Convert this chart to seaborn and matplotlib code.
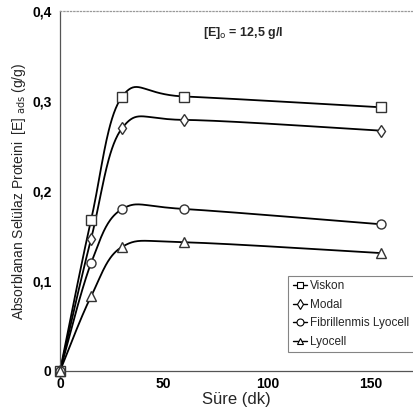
import numpy as np
import pandas as pd
import matplotlib
matplotlib.use("Agg")
import matplotlib.pyplot as plt
import seaborn as sns
from matplotlib.lines import Line2D

time_min = [0, 15, 30, 60, 155]
viskon = [0.0, 0.168, 0.305, 0.305, 0.293]
modal = [0.0, 0.147, 0.270, 0.279, 0.267]
fibrillenmis = [0.0, 0.120, 0.180, 0.180, 0.163]
lyocell = [0.0, 0.083, 0.138, 0.143, 0.131]
series_names = ["Viskon", "Modal", "Fibrillenmis Lyocell", "Lyocell"]
series_vals = [viskon, modal, fibrillenmis, lyocell]
markers = ["s", "d", "o", "^"]

sns.set_theme(style="white")
plt.rcParams['font.family'] = ['Liberation Sans', 'DejaVu Sans']

def smooth(x, y, n=40):
    x = np.asarray(x, float); y = np.asarray(y, float)
    pts = np.column_stack([x, y])
    out = []
    for i in range(len(pts) - 1):
        p0 = pts[i - 1] if i > 0 else pts[i]
        p1 = pts[i]; p2 = pts[i + 1]
        p3 = pts[i + 2] if i + 2 < len(pts) else pts[i + 1]
        c1 = p1 + (p2 - p0) / 6.0
        c2 = p2 - (p3 - p1) / 6.0
        t = np.linspace(0, 1, n)[:, None]
        b = ((1 - t) ** 3) * p1 + 3 * ((1 - t) ** 2) * t * c1 + 3 * (1 - t) * t ** 2 * c2 + t ** 3 * p2
        out.append(b if i == 0 else b[1:])
    out = np.vstack(out)
    return out[:, 0], out[:, 1]

fig = plt.figure(figsize=(4.14, 4.18), dpi=100)
ax = fig.add_axes([60 / 414, 47 / 418, 352.5 / 414, 360 / 418])

rows = []
for name, vals in zip(series_names, series_vals):
    for t, v in zip(time_min, vals):
        rows.append({"t": t, "v": v, "s": name})
df = pd.DataFrame(rows)

for name, vals, m in zip(series_names, series_vals, markers):
    sx, sy = smooth(time_min, vals)
    sdf = pd.DataFrame({"t": sx, "v": sy})
    sns.lineplot(data=sdf, x="t", y="v", ax=ax, color="black", lw=1.3, sort=False, estimator=None)
    sub = df[df.s == name]
    ax.plot(sub.t, sub.v, linestyle="none", marker=m, ms=6.5 if m != "d" else 6,
            mfc="white", mec="#333333", mew=1.0, zorder=5, clip_on=False)

ax.set_xlim(0, 170)
ax.set_ylim(0, 0.4)
ax.set_xticks([0, 50, 100, 150])
ax.set_yticks([0, 0.1, 0.2, 0.3, 0.4])
ax.set_xticklabels(["0", "50", "100", "150"], fontweight="bold", fontsize=10)
ax.set_yticklabels(["0", "0,1", "0,2", "0,3", "0,4"], fontweight="bold", fontsize=10)
ax.tick_params(axis="x", direction="in", length=4, width=0.8, colors="#555555", labelcolor="black", pad=4)
ax.tick_params(axis="y", direction="out", length=3, width=0.8, colors="#555555", labelcolor="black", pad=3)
ax.set_xlabel("Süre (dk)", fontsize=12, labelpad=1)
ax.set_ylabel(r"Absorblanan Selülaz Proteini  [E]$_{\ \rm ads}$ (g/g)", fontsize=10, labelpad=3)

for s in ["left", "bottom"]:
    ax.spines[s].set_color("#555555")
    ax.spines[s].set_linewidth(0.9)
ax.spines["top"].set_color("#999999")
ax.spines["top"].set_linestyle(":")
ax.spines["top"].set_linewidth(0.9)
ax.spines["right"].set_visible(False)

ax.text(0.406, 0.939, r"[E]$_{\rm o}$ = 12,5 g/l", transform=ax.transAxes,
        fontsize=9, fontweight="bold", ha="left", va="center")

handles = [Line2D([0], [0], color="black", lw=1.0, marker=m, ms=5, mfc="white", mec="black", mew=0.8)
           for m in markers]
leg = ax.legend(handles, series_names, loc="lower left", bbox_to_anchor=(0.63, 0.035),
                frameon=True, fontsize=8.5, handlelength=1.2, handletextpad=0.3,
                borderpad=0.4, labelspacing=0.55, fancybox=False)
leg.get_frame().set_edgecolor("#666666")
leg.get_frame().set_linewidth(0.8)

fig.savefig("out.png", dpi=100)
